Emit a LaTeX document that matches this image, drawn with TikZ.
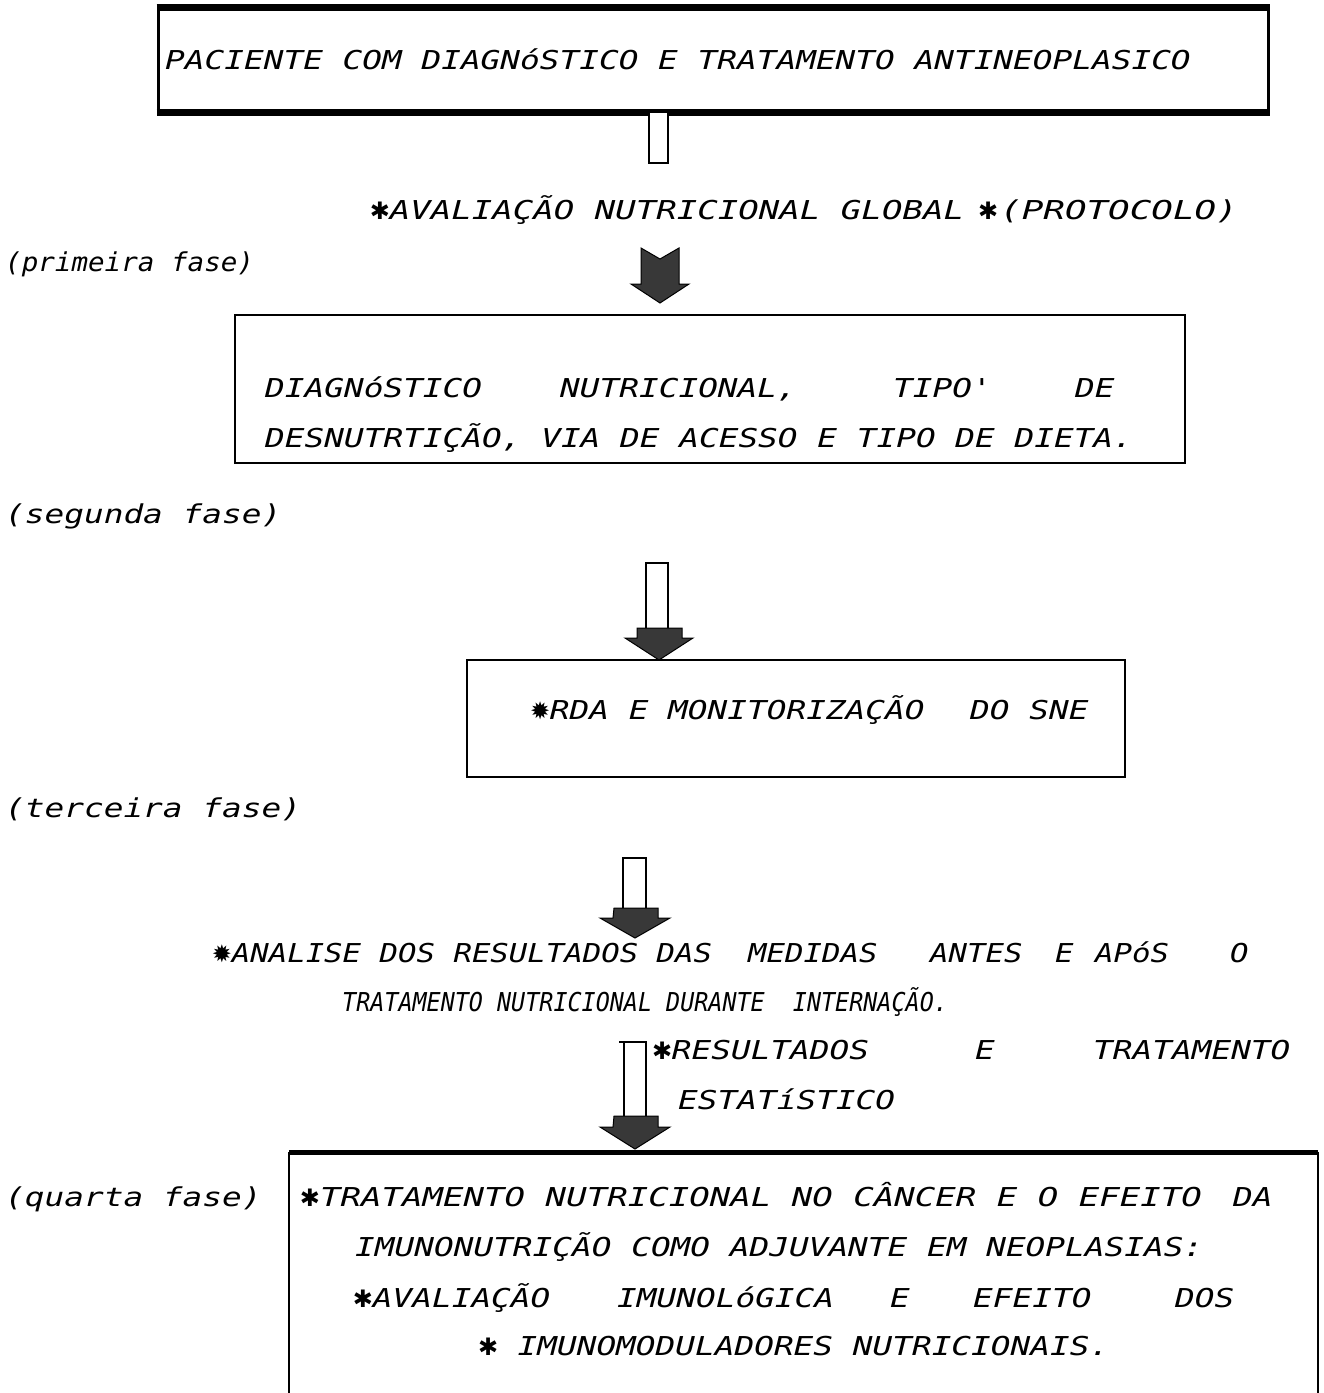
\documentclass[tikz,border=0pt]{standalone}
\usepackage{fontspec}
\newfontfamily\dm[FakeStretch=1.26]{DejaVu Sans Mono}
\newfontfamily\dmw[FakeStretch=1.31]{DejaVu Sans Mono}
\newfontfamily\dmx[FakeStretch=1.38]{DejaVu Sans Mono}
\newfontfamily\dmm[FakeStretch=1.18]{DejaVu Sans Mono}
\newfontfamily\dmn[FakeStretch=1.06]{DejaVu Sans Mono}
\newfontfamily\dmc[FakeStretch=0.9]{DejaVu Sans Mono}
\newfontfamily\symf{DejaVu Sans}
\newcommand{\st}{\makebox[19.7pt][c]{\symf\fontsize{24}{24}\selectfont ✱}}
\newcommand{\sst}{\makebox[19.7pt][c]{\symf\fontsize{24}{24}\selectfont ✹}}
\tikzset{
  txt/.style={anchor=base west, inner sep=0pt, font=\dm\itshape\fontsize{26}{30}\selectfont},
  txtw/.style={txt, font=\dmw\itshape\fontsize{26}{30}\selectfont},
  txtx/.style={txt, font=\dmx\itshape\fontsize{26}{30}\selectfont},
  txtm/.style={txt, font=\dmm\itshape\fontsize{26}{30}\selectfont},
  txtn/.style={txt, font=\dmn\itshape\fontsize{26}{30}\selectfont},
  txtc/.style={txt, font=\dmc\itshape\fontsize{26}{30}\selectfont},
  frame/.style={draw, line width=2pt, inner sep=0pt},
  heavy/.style={line width=7pt},
  headfill/.style={fill=black!78, draw=black, line width=1pt, line join=miter},
  shaftbox/.style={draw=black, line width=2.5pt, fill=white},
}
\begin{document}
\begin{tikzpicture}[x=1pt,y=-1pt]
\useasboundingbox (0,0) rectangle (1324,1393);

% ---------- box 1
\node[frame, line width=3pt, minimum width=1110pt, minimum height=102pt] (b1) at (713,60) {};
\draw[heavy] (b1.north west) -- (b1.north east);
\draw[heavy] (b1.south west) -- (b1.south east);
\node[txt] (t1) at (165,69) {PACIENTE COM DIAGNóSTICO E TRATAMENTO ANTINEOPLASICO};

% small connector under box 1
\draw[shaftbox] (b1.south -| 649,0) -- (649,163) -- (668,163) -- (b1.south -| 668,0);

% ---------- avaliacao line
\node[txtw] (t2a) at (370,219) {\st AVALIAÇÃO NUTRICIONAL GLOBAL};
\node[txt] (t2b) at (978,219) {\st};
\node[txtx] (t2c) at (1000,219) {(PROTOCOLO)};

\node[txtn] (f1) at (5,271) {(primeira fase)};

% arrow 1 (solid)
\filldraw[headfill] (641,248) -- (660,259) -- (679,248) -- (679,284) -- (689,284)
   -- (660,303) -- (631,284) -- (641,284) -- cycle;

% ---------- box 2
\node[frame, minimum width=950pt, minimum height=148pt] (b2) at (710,389) {};
\node[txt] (t3a) at (265,397) {DIAGNóSTICO};
\node[txt] (t3b) at (560,397) {NUTRICIONAL,};
\node[txt] (t3c) at (893,397) {TIPO'};
\node[txt] (t3d) at (1075,397) {DE};
\node[txt] (t4) at (265,447) {DESNUTRTIÇÃO, VIA DE ACESSO E TIPO DE DIETA.};

\node[txt] (f2) at (5,523) {(segunda fase)};

% arrow 2
\draw[shaftbox] (646,630) -- (646,563) -- (668,563) -- (668,630);
\filldraw[headfill] (637,628) -- (682,628) -- (682,638) -- (693,638) -- (659,660)
   -- (625,638) -- (637,638) -- cycle;

% ---------- box 3
\node[frame, minimum width=658pt, minimum height=117pt] (b3) at (796,718.5) {};
\node[txt] (t5a) at (530,719) {\sst RDA E MONITORIZAÇÃO};
\node[txt] (t5b) at (970,719) {DO SNE};

\node[txt] (f3) at (5,817) {(terceira fase)};

% arrow 3
\draw[shaftbox] (623,910) -- (623,858) -- (646,858) -- (646,910);
\filldraw[headfill] (614,908) -- (658,908) -- (658,918) -- (670,918) -- (635,938)
   -- (600,918) -- (613,918) -- cycle;

% ---------- analise lines
\node[txtm] (t6a) at (212,962) {\sst ANALISE DOS RESULTADOS DAS};
\node[txtm] (t6b) at (748,962) {MEDIDAS};
\node[txtm] (t6c) at (930,962) {ANTES};
\node[txtm] (t6d) at (1055,962) {E};
\node[txtm] (t6e) at (1095,962) {APóS};
\node[txtm] (t6f) at (1230,962) {O};
\node[txtc] (t7) at (342,1011) {TRATAMENTO NUTRICIONAL DURANTE~~INTERNAÇÃO.};

% arrow 4
\draw[shaftbox] (624,1118) -- (624,1042) -- (646,1042) -- (646,1118);
\draw[line width=2pt] (624,1042) -- (619,1042);
\filldraw[headfill] (614,1116) -- (658,1116) -- (658,1127) -- (670,1127) -- (635,1149)
   -- (600,1127) -- (613,1127) -- cycle;

\node[txt] (t8a) at (652,1059) {\st RESULTADOS};
\node[txt] (t8b) at (975,1059) {E};
\node[txt] (t8c) at (1093,1059) {TRATAMENTO};
\node[txt] (t9) at (678,1109) {ESTATíSTICO};

% ---------- box 4 (open at bottom)
\coordinate (b4sw) at (289,1393);
\coordinate (b4nw) at (289,1152);
\coordinate (b4ne) at (1318,1152);
\coordinate (b4se) at (1318,1393);
\draw[line width=2.5pt] (b4sw) -- (b4nw);
\draw[line width=2.5pt] (b4ne) -- (b4se);
\draw[line width=5pt] (b4nw) -- (b4ne);

\node[txt] (f4) at (5,1206) {(quarta fase)};

\node[txt] (t10s) at (300,1206) {\st};
\node[txtw] (t10a) at (320,1206) {TRATAMENTO NUTRICIONAL NO CÂNCER E O EFEITO};
\node[txt] (t10b) at (1233,1206) {DA};
\node[txt] (t11) at (355,1256) {IMUNONUTRIÇÃO COMO ADJUVANTE EM NEOPLASIAS:};
\node[txt] (t12a) at (353,1307) {\st AVALIAÇÃO};
\node[txt] (t12b) at (617,1307) {IMUNOLóGICA};
\node[txt] (t12c) at (890,1307) {E};
\node[txt] (t12d) at (973,1307) {EFEITO};
\node[txt] (t12e) at (1175,1307) {DOS};
\node[txt] (t13) at (478,1355) {\st~IMUNOMODULADORES NUTRICIONAIS.};
\end{tikzpicture}
\end{document}
